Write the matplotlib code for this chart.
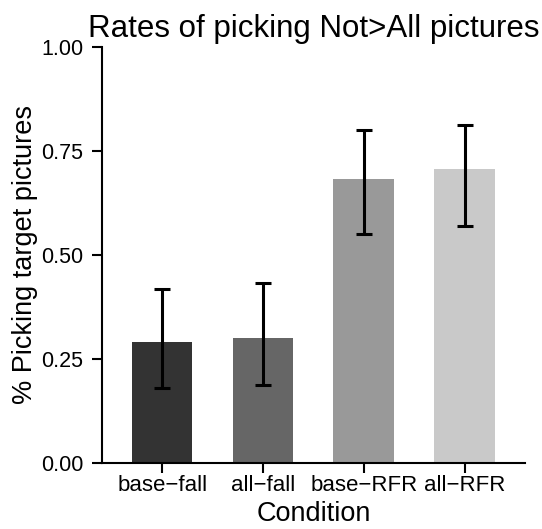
import matplotlib
matplotlib.use('Agg')
import matplotlib.pyplot as plt

plt.rcParams['font.family'] = ['Liberation Sans', 'DejaVu Sans']

conditions = ['base\u2212fall', 'all\u2212fall', 'base\u2212RFR', 'all\u2212RFR']
rates = [0.290, 0.300, 0.683, 0.707]
err_low = [0.181, 0.187, 0.551, 0.570]
err_high = [0.417, 0.433, 0.800, 0.812]
fills = ['#333333', '#666666', '#999999', '#c9c9c9']

yerr = [[r - lo for r, lo in zip(rates, err_low)],
        [hi - r for r, hi in zip(rates, err_high)]]
xpos = list(range(len(conditions)))

fig = plt.figure(figsize=(5.42, 5.29), dpi=100)
ax = fig.add_axes([0.1876, 0.1248, 0.781, 0.787])

ax.bar(xpos, rates, width=0.6, color=fills, zorder=1)
ax.errorbar(xpos, rates, yerr=yerr, fmt='none', ecolor='black',
            elinewidth=2.2, capsize=5.5, capthick=2.2, zorder=2)

ax.set_xlim(-0.6, 3.6)
ax.set_ylim(0, 1)
ax.set_xticks(xpos)
ax.set_xticklabels(conditions, fontsize=16)
ax.set_yticks([0, 0.25, 0.5, 0.75, 1.0])
ax.set_yticklabels(['0.00', '0.25', '0.50', '0.75', '1.00'], fontsize=15.5)
ax.tick_params(length=7, width=1.5, color='black')
ax.tick_params(axis='x', pad=2)
ax.tick_params(axis='y', pad=6)

for s in ['top', 'right']:
    ax.spines[s].set_visible(False)
for s in ['left', 'bottom']:
    ax.spines[s].set_linewidth(1.5)

ax.set_xlabel('Condition', fontsize=19.5, labelpad=3)
ax.set_ylabel('% Picking target pictures', fontsize=19.5, labelpad=2)
ax.set_title('Rates of picking Not>All pictures', fontsize=22.5, pad=7)

fig.savefig('out.png', dpi=100)
